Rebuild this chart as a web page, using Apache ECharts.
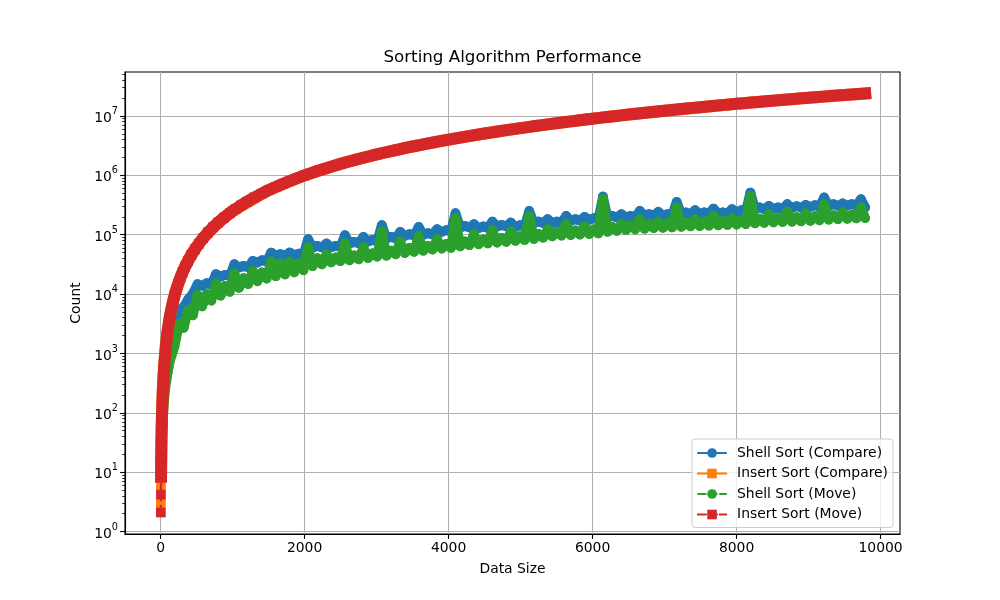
<!DOCTYPE html>
<html>
<head>
<meta charset="utf-8">
<title>Sorting Algorithm Performance</title>
<script src="https://cdn.jsdelivr.net/npm/echarts@6.0.0/dist/echarts.min.js"></script>
<style>
  html, body { margin: 0; padding: 0; background: #fff; }
  #main { width: 1000px; height: 600px; }
</style>
</head>
<body>
<div id="main"></div>
<script>
// data sizes and counts
var shellSizes = [8, 16, 32, 48, 64, 80, 96, 112,
  128, 192, 256, 320, 384, 448, 512, 576, 640, 704, 768, 832, 896, 960,
  1024, 1088, 1152, 1216, 1280, 1344, 1408, 1472, 1536, 1600, 1664, 1728, 1792, 1856, 1920, 1984,
  2048, 2112, 2176, 2240, 2304, 2368, 2432, 2496, 2560, 2624, 2688, 2752, 2816, 2880, 2944, 3008,
  3072, 3136, 3200, 3264, 3328, 3392, 3456, 3520, 3584, 3648, 3712, 3776, 3840, 3904, 3968, 4032,
  4096, 4160, 4224, 4288, 4352, 4416, 4480, 4544, 4608, 4672, 4736, 4800, 4864, 4928, 4992, 5056,
  5120, 5184, 5248, 5312, 5376, 5440, 5504, 5568, 5632, 5696, 5760, 5824, 5888, 5952, 6016, 6080,
  6144, 6208, 6272, 6336, 6400, 6464, 6528, 6592, 6656, 6720, 6784, 6848, 6912, 6976, 7040, 7104,
  7168, 7232, 7296, 7360, 7424, 7488, 7552, 7616, 7680, 7744, 7808, 7872, 7936, 8000, 8064, 8128,
  8192, 8256, 8320, 8384, 8448, 8512, 8576, 8640, 8704, 8768, 8832, 8896, 8960, 9024, 9088, 9152,
  9216, 9280, 9344, 9408, 9472, 9536, 9600, 9664, 9728, 9786];

var shellCompare = [14, 40, 120, 220, 340, 470, 640, 850,
  1500, 3300, 5200, 6100, 8200, 10200, 14700, 13800, 15300, 14400, 21700, 19700, 21100, 20000,
  31900, 27900, 29900, 28300, 36300, 33900, 37300, 35100, 50200, 44000, 47100, 44300, 50200, 45100, 48300, 45600,
  84100, 60600, 64900, 61000, 71200, 61300, 64900, 62100, 98200, 70900, 75800, 71800, 92000, 76600, 81900, 77500,
  144800, 86000, 92000, 87200, 111700, 95400, 102100, 96300, 135600, 99300, 106200, 100900, 124000, 111500, 119300, 112900,
  230600, 131700, 140900, 132200, 150600, 128800, 137700, 130000, 167100, 136900, 146500, 137900, 160700, 135300, 144800, 136800,
  252300, 156200, 167100, 157300, 182700, 157900, 167100, 159000, 207700, 170800, 182700, 172100, 200000, 177600, 190000, 179000,
  440600, 194100, 207700, 194900, 222000, 196100, 207700, 197200, 252300, 207500, 222000, 208600, 242600, 209800, 222000, 210900,
  357500, 221600, 237100, 222900, 259000, 224000, 237100, 225200, 276700, 226300, 237100, 228000, 269400, 242100, 259000, 244000,
  514400, 268900, 287700, 270200, 306200, 271300, 287700, 273000, 326800, 282700, 302500, 284400, 318300, 294000, 314500, 295300,
  424000, 305500, 326800, 307200, 336000, 308900, 326800, 310700, 397000, 287700];

var shellMove = [10, 28, 85, 160, 250, 350, 460, 590,
  750, 1300, 3200, 2700, 5370, 4400, 9710, 6200, 9980, 7750, 15100, 9400, 13760, 10900,
  22280, 12700, 18550, 14700, 24610, 16400, 23140, 18200, 35460, 20000, 32800, 21400, 35460, 23200, 32800, 25200,
  60990, 29500, 40280, 31600, 47080, 34300, 41400, 35800, 71240, 37000, 44900, 38500, 60990, 40500, 48800, 42800,
  113500, 44300, 54100, 46700, 76970, 49200, 59900, 51500, 95640, 53700, 65200, 56000, 84140, 58500, 70400, 60000,
  190000, 63500, 77400, 66500, 102100, 69000, 83300, 71300, 119300, 73500, 88900, 76000, 113500, 79000, 95200, 81500,
  207700, 84500, 103200, 89000, 124000, 94000, 113300, 96500, 150600, 98500, 118400, 100500, 137700, 102500, 123400, 105000,
  397000, 112000, 135700, 116000, 150600, 120000, 144800, 123500, 182700, 126000, 151600, 128900, 167100, 130500, 156500, 132500,
  287700, 135500, 162400, 137500, 182700, 139400, 167200, 141500, 207700, 143500, 172200, 146000, 190000, 148000, 177500, 150500,
  451000, 155000, 186800, 158500, 222000, 161000, 193000, 163500, 246200, 165500, 198100, 167500, 228000, 171000, 205900, 175000,
  326800, 179000, 215000, 182500, 237100, 185000, 218600, 188000, 287700, 190000];

var insertSizes = [3, 4, 6, 7, 8, 9, 10, 11, 12,
  14, 16, 18, 20, 22, 24, 27, 30, 34, 38,
  42, 47, 52, 58, 64, 72, 80, 90, 100, 112,
  125, 140, 156, 175, 195, 218, 244, 273, 305, 340,
  380, 425, 475, 530, 590, 660, 730, 800, 880, 960,
  1040, 1120, 1200, 1300, 1400, 1500, 1600, 1700, 1800, 1900, 2000,
  2100, 2200, 2300, 2400, 2500, 2600, 2700, 2800, 2900, 3000,
  3100, 3200, 3300, 3400, 3500, 3600, 3700, 3800, 3900, 4000,
  4100, 4200, 4300, 4400, 4500, 4600, 4700, 4800, 4900, 5000,
  5100, 5200, 5300, 5400, 5500, 5600, 5700, 5800, 5900, 6000,
  6100, 6200, 6300, 6400, 6500, 6600, 6700, 6800, 6900, 7000,
  7100, 7200, 7300, 7400, 7500, 7600, 7700, 7800, 7900, 8000,
  8100, 8200, 8300, 8400, 8500, 8600, 8700, 8800, 8900, 9000,
  9100, 9200, 9300, 9400, 9500, 9600, 9700, 9786];

var insertMove = [2.1, 4.2, 8.4, 12, 16, 20, 25, 30, 36,
  49, 64, 81, 100, 121, 144, 182, 225, 289, 361,
  441, 552, 676, 841, 1020, 1300, 1600, 2030, 2500, 3140,
  3910, 4900, 6080, 7660, 9510, 11900, 14900, 18600, 23300, 28900,
  36100, 45200, 56400, 70200, 87000, 109000, 133000, 160000, 194000, 230000,
  270000, 314000, 360000, 4.23e5, 4.90e5, 5.63e5, 6.40e5, 7.23e5, 8.10e5, 9.03e5, 1.00e6,
  1.10e6, 1.21e6, 1.32e6, 1.44e6, 1.56e6, 1.69e6, 1.82e6, 1.96e6, 2.10e6, 2.25e6,
  2.40e6, 2.56e6, 2.72e6, 2.89e6, 3.06e6, 3.24e6, 3.42e6, 3.61e6, 3.80e6, 4.00e6,
  4.20e6, 4.41e6, 4.62e6, 4.84e6, 5.06e6, 5.29e6, 5.52e6, 5.76e6, 6.00e6, 6.25e6,
  6.50e6, 6.76e6, 7.02e6, 7.29e6, 7.56e6, 7.84e6, 8.12e6, 8.41e6, 8.70e6, 9.00e6,
  9.30e6, 9.61e6, 9.92e6, 1.024e7, 1.056e7, 1.089e7, 1.122e7, 1.156e7, 1.190e7, 1.225e7,
  1.260e7, 1.296e7, 1.332e7, 1.369e7, 1.406e7, 1.444e7, 1.482e7, 1.521e7, 1.560e7, 1.600e7,
  1.640e7, 1.681e7, 1.722e7, 1.764e7, 1.806e7, 1.849e7, 1.892e7, 1.936e7, 1.980e7, 2.025e7,
  2.070e7, 2.116e7, 2.162e7, 2.209e7, 2.256e7, 2.304e7, 2.352e7, 2.394e7];

// insert compare sits under the move curve almost everywhere
var insertCompareSizes = [3, 4, 6, 7, 8, 9, 10, 11, 12,
  14, 16, 18, 20, 22, 24, 27, 30, 34, 38,
  42, 47, 52, 58, 64, 72, 80, 90, 100, 112,
  125, 140, 156, 175, 195, 218, 244, 273, 305, 340,
  380, 425, 475, 530, 590, 660, 730, 800, 1000, 1500,
  2000, 2500, 3000, 3500, 4000, 4500, 5000, 5500, 6000, 6500,
  7000, 7500, 8000, 8500, 9000, 9500, 9786];

var insertCompare = [3.0, 5.9, 11, 15, 19.5, 24, 29, 35, 41,
  55, 71, 89, 108, 130, 154, 193, 238, 304, 378,
  460, 575, 702, 870, 1060, 1340, 1650, 2090, 2570, 3220,
  4000, 5010, 6200, 7800, 9680, 12100, 15100, 18900, 23600, 29200,
  36500, 45600, 56900, 70800, 87600, 110000, 134000, 161000, 251000, 564000,
  1.002e6, 1.565e6, 2.253e6, 3.066e6, 4.004e6, 5.066e6, 6.255e6, 7.568e6, 9.006e6, 1.057e7,
  1.226e7, 1.407e7, 1.601e7, 1.807e7, 2.026e7, 2.257e7, 2.395e7];

var xTicks = [0, 2000, 4000, 6000, 8000, 10000];
var yTicks = [1, 10, 100, 1000, 10000, 100000, 1000000, 10000000];

var FONT = 'DejaVu Sans';
var YMIN = 0.912, YMAX = 5.5e7;
var MARK = 9.7;   // marker size incl. edge
var DASH = [7.7, 3.3];

var minorTicks = [];
yTicks.forEach(function (t) {
  for (var m = 2; m <= 9; m++) {
    if (t * m < YMAX) minorTicks.push(t * m);
  }
});

function pairs(xs, ys) {
  return xs.map(function (x, i) { return [x, ys[i]]; });
}

// dense markers in the original merge into a band; a wide line draws that band
function bandSeries(name, data, color, symbol, width, cap, z) {
  return {
    name: name,
    type: 'line',
    data: data,
    z: z,
    symbol: symbol,
    symbolSize: MARK,
    showSymbol: true,
    silent: true,
    clip: true,
    itemStyle: { color: color, borderWidth: 0 },
    lineStyle: { color: color, width: width, cap: cap, join: 'round' },
    emphasis: { disabled: true }
  };
}

// the few separate markers at the very start
function thinSeries(name, data, color, symbol, z) {
  return {
    name: name,
    type: 'line',
    data: data,
    z: z,
    symbol: symbol,
    symbolSize: MARK,
    showSymbol: true,
    silent: true,
    clip: true,
    itemStyle: { color: color, borderWidth: 0 },
    lineStyle: { color: color, width: 2.1, type: DASH },
    emphasis: { disabled: true }
  };
}

var insertMoveData = pairs(insertSizes, insertMove);
var insertCompareData = pairs(insertCompareSizes, insertCompare);

var chart = echarts.init(document.getElementById('main'), null, { width: 1000, height: 600 });

var option = {
  backgroundColor: '#ffffff',
  animation: false,
  textStyle: { fontFamily: FONT },
  graphic: [{
    type: 'text',
    x: 512.5,
    y: 58,
    style: {
      text: 'Sorting Algorithm Performance',
      fontFamily: FONT,
      fontSize: 16.7,
      fill: '#000',
      textAlign: 'center',
      textVerticalAlign: 'middle'
    }
  }],
  grid: {
    left: 125, right: 100, top: 72, bottom: 66,
    show: true, borderColor: '#000', borderWidth: 1.1, backgroundColor: 'transparent'
  },
  legend: {
    orient: 'vertical',
    left: 692,
    top: 439,
    padding: [7, 5, 6, 5],
    itemWidth: 28,
    itemHeight: 12,
    itemGap: 6.5,
    selectedMode: false,
    backgroundColor: 'rgba(255,255,255,0.8)',
    borderColor: '#cccccc',
    borderWidth: 1,
    borderRadius: 3,
    textStyle: { fontFamily: FONT, fontSize: 13.9, color: '#000', padding: [0, 0, 0, 6] },
    data: [
      { name: 'Shell Sort (Compare)', lineStyle: { width: 2.1, type: 'solid' } },
      { name: 'Insert Sort (Compare)', lineStyle: { width: 2.1, type: 'solid' } },
      { name: 'Shell Sort (Move)', lineStyle: { width: 2.1, type: DASH } },
      { name: 'Insert Sort (Move)', lineStyle: { width: 2.1, type: DASH } }
    ]
  },
  xAxis: {
    type: 'value',
    min: -495,
    max: 10270,
    name: 'Data Size',
    nameLocation: 'middle',
    nameGap: 28,
    nameTextStyle: { fontFamily: FONT, fontSize: 13.9, color: '#000' },
    axisLine: { show: true, onZero: false, lineStyle: { color: '#000', width: 1.1 } },
    axisTick: { show: true, length: 4.9, customValues: xTicks, lineStyle: { color: '#000', width: 1.1 } },
    axisLabel: {
      customValues: xTicks,
      margin: 7,
      fontFamily: FONT, fontSize: 13.9, color: '#000',
      formatter: function (v) { return String(v); }
    },
    splitLine: { show: true, lineStyle: { color: '#b0b0b0', width: 1.1 } }
  },
  yAxis: [{
    type: 'log',
    logBase: 10,
    min: YMIN,
    max: YMAX,
    name: 'Count',
    nameLocation: 'middle',
    nameGap: 41,
    nameTextStyle: { fontFamily: FONT, fontSize: 13.9, color: '#000' },
    axisLine: { show: true, onZero: false, lineStyle: { color: '#000', width: 1.1 } },
    axisTick: { show: true, length: 4.9, customValues: yTicks, lineStyle: { color: '#000', width: 1.1 } },
    axisLabel: {
      customValues: yTicks,
      margin: 7,
      formatter: function (v) {
        return '{b|10}{s|' + Math.round(Math.log10(v)) + '}';
      },
      rich: {
        b: { fontFamily: FONT, fontSize: 13.9, color: '#000', padding: [5, 0, 0, 0] },
        s: { fontFamily: FONT, fontSize: 9.7, color: '#000', verticalAlign: 'top', lineHeight: 11 }
      }
    },
    splitLine: { show: true, lineStyle: { color: '#b0b0b0', width: 1.1 } }
  }, {
    // minor ticks only
    type: 'log',
    logBase: 10,
    min: YMIN,
    max: YMAX,
    position: 'left',
    axisLine: { show: false, onZero: false },
    axisTick: { show: true, length: 2.8, customValues: minorTicks, lineStyle: { color: '#000', width: 0.8 } },
    axisLabel: { show: false },
    splitLine: { show: false }
  }],
  series: [
    bandSeries('Shell Sort (Compare)', pairs(shellSizes, shellCompare), '#1f77b4', 'circle', MARK, 'round', 2),
    bandSeries('Insert Sort (Compare)', insertCompareData.slice(2), '#ff7f0e', 'rect', 12, 'square', 3),
    thinSeries('Insert Sort (Compare)', insertCompareData.slice(0, 3), '#ff7f0e', 'rect', 3),
    bandSeries('Shell Sort (Move)', pairs(shellSizes, shellMove), '#2ca02c', 'circle', MARK, 'round', 4),
    bandSeries('Insert Sort (Move)', insertMoveData.slice(2), '#d62728', 'rect', 12, 'square', 5),
    thinSeries('Insert Sort (Move)', insertMoveData.slice(0, 3), '#d62728', 'rect', 5)
  ]
};

chart.setOption(option);
</script>
</body>
</html>
